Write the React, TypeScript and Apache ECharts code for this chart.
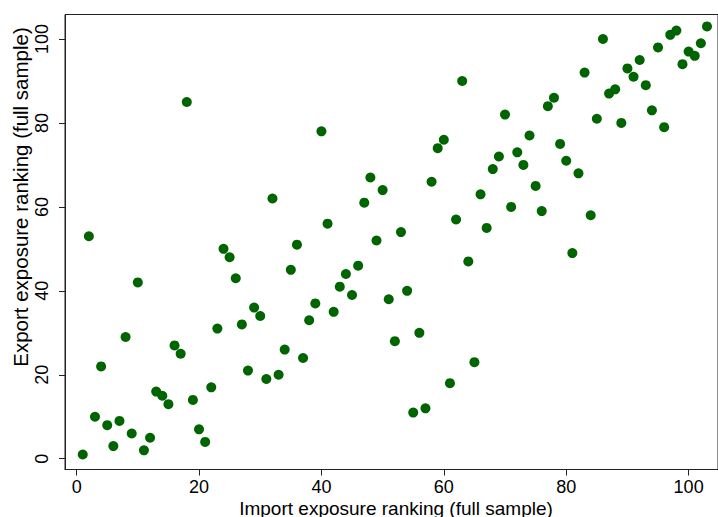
import React, { useEffect, useRef } from "react";
import * as echarts from "echarts";

const importRank = [
  1, 2, 3, 4, 5, 6, 7, 8, 9, 10, 11, 12, 13, 14, 15, 16, 17, 18, 19, 20,
  21, 22, 23, 24, 25, 26, 27, 28, 29, 30, 31, 32, 33, 34, 35, 36, 37, 38, 39, 40,
  41, 42, 43, 44, 45, 46, 47, 48, 49, 50, 51, 52, 53, 54, 55, 56, 57, 58, 59, 60,
  61, 62, 63, 64, 65, 66, 67, 68, 69, 70, 71, 72, 73, 74, 75, 76, 77, 78, 79, 80,
  81, 82, 83, 84, 85, 86, 87, 88, 89, 90, 91, 92, 93, 94, 95, 96, 97, 98, 99, 100,
  101, 102, 103,
];

const exportRank = [
  1, 53, 10, 22, 8, 3, 9, 29, 6, 42, 2, 5, 16, 15, 13, 27, 25, 85, 14, 7,
  4, 17, 31, 50, 48, 43, 32, 21, 36, 34, 19, 62, 20, 26, 45, 51, 24, 33, 37, 78,
  56, 35, 41, 44, 39, 46, 61, 67, 52, 64, 38, 28, 54, 40, 11, 30, 12, 66, 74, 76,
  18, 57, 90, 47, 23, 63, 55, 69, 72, 82, 60, 73, 70, 77, 65, 59, 84, 86, 75, 71,
  49, 68, 92, 58, 81, 100, 87, 88, 80, 93, 91, 95, 89, 83, 98, 79, 101, 102, 94, 97,
  96, 99, 103,
];

const tickValues = [0, 20, 40, 60, 80, 100];
const xTitle = "Import exposure ranking (full sample)";
const yTitle = "Export exposure ranking (full sample)";

const FONT = "'Liberation Sans', Arial, Helvetica, sans-serif";

export default function App() {
  const ref = useRef<HTMLDivElement>(null);

  useEffect(() => {
    if (!ref.current) return;
    const chart = echarts.init(ref.current, null, { renderer: "svg" });
    const data = importRank.map((x, i) => [x, exportRank[i]]);
    chart.setOption({
      animation: false,
      backgroundColor: "#ffffff",
      grid: {
        left: 65,
        top: 14.5,
        right: -9,
        bottom: 47.5,
        show: true,
        borderColor: "#222222",
        borderWidth: 1,
        backgroundColor: "transparent",
      },
      xAxis: {
        type: "value",
        min: -1.9,
        max: 104.8,
        splitLine: { show: false },
        axisLine: { show: true, onZero: false, lineStyle: { color: "#222222", width: 1 } },
        axisTick: {
          show: true,
          inside: false,
          length: 6,
          customValues: tickValues,
          lineStyle: { color: "#222222", width: 1 },
        },
        axisLabel: {
          show: true,
          customValues: tickValues,
          color: "#000000",
          fontSize: 18,
          lineHeight: 14,
          fontFamily: FONT,
          margin: 10,
        },
      },
      yAxis: {
        type: "value",
        min: -2.57,
        max: 105.84,
        splitLine: { show: false },
        axisLine: { show: true, onZero: false, lineStyle: { color: "#222222", width: 1 } },
        axisTick: {
          show: true,
          inside: false,
          length: 6,
          customValues: tickValues,
          lineStyle: { color: "#222222", width: 1 },
        },
        axisLabel: {
          show: true,
          customValues: tickValues,
          color: "#000000",
          fontSize: 18,
          lineHeight: 14,
          fontFamily: FONT,
          rotate: 90,
          margin: 16,
        },
      },
      graphic: [
        {
          type: "text",
          x: 396,
          y: 508.5,
          style: {
            text: xTitle,
            fill: "#000000",
            font: `19px ${FONT}`,
            lineHeight: 15,
            align: "center",
            verticalAlign: "middle",
          },
        },
        {
          type: "text",
          x: 20,
          y: 197,
          rotation: Math.PI / 2,
          style: {
            text: yTitle,
            fill: "#000000",
            font: `20.5px ${FONT}`,
            lineHeight: 16,
            align: "center",
            verticalAlign: "middle",
          },
        },
      ],
      series: [
        {
          type: "scatter",
          data,
          symbol: "circle",
          symbolSize: 10,
          itemStyle: { color: "#006400", opacity: 1 },
          clip: true,
        },
      ],
    });
    return () => chart.dispose();
  }, []);

  return (
    <div
      ref={ref}
      style={{ position: "fixed", left: 0, top: 0, width: 718, height: 517, background: "#fff" }}
    />
  );
}
